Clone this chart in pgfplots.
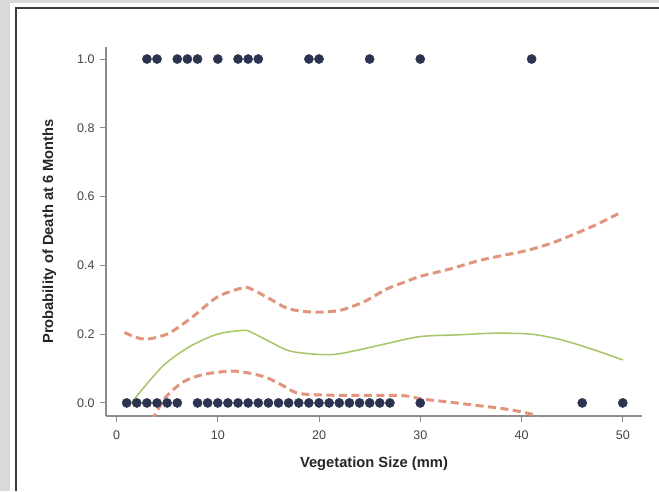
\documentclass[border=0pt]{standalone}
\usepackage{fontspec}
\setmainfont{Liberation Sans}
\usepackage{pgfplots}
\pgfplotsset{compat=1.18}
\definecolor{bggray}{HTML}{D9D9D9}
\definecolor{framec}{HTML}{3C3C3C}
\definecolor{dotc}{HTML}{2B3350}
\definecolor{greenc}{HTML}{A6C567}
\definecolor{salmon}{HTML}{E0957C}
\definecolor{tickc}{HTML}{444444}
\definecolor{axc}{HTML}{8C8C8C}
\begin{document}
\begin{tikzpicture}
\fill[bggray] (0pt,0pt) rectangle (659pt,491pt);
\fill[white] (10pt,0pt) rectangle (659pt,488pt);
\draw[framec, line width=2.5pt] (16pt,0pt) -- (16pt,483pt) -- (659pt,483pt);
\coordinate (orig) at (106pt,75pt);
\begin{axis}[
  at={(orig)}, anchor=south west,
  scale only axis, width=536pt, height=369pt,
  xmin=-1.04, xmax=51.9, ymin=-0.038, ymax=1.035,
  axis lines*=left,
  axis line style={axc, line width=1.3pt},
  tick style={axc, line width=1pt},
  tick align=outside, major tick length=6pt,
  xtick={0,10,20,30,40,50},
  ytick={0,0.2,0.4,0.6,0.8,1.0},
  yticklabel style={/pgf/number format/fixed, /pgf/number format/fixed zerofill, /pgf/number format/precision=1, xshift=-2pt},
  /pgf/number format/assume math mode=true,
  ticklabel style={font=\fontsize{12.5}{14}\selectfont, text=tickc},
  xticklabel style={yshift=-5pt},
  xlabel={\bfseries Vegetation Size (mm)},
  ylabel={\bfseries Probability of Death at 6 Months},
  label style={font=\fontsize{14.7}{16}\selectfont, text=black!85},
  xlabel style={yshift=-11pt},
  ylabel style={yshift=14pt},
  clip=true,
]
\addplot[salmon, line width=3pt, dash pattern=on 8pt off 4.5pt, smooth, tension=0.5] coordinates {
(0.78,0.205) (2,0.19) (3.16,0.186) (5.2,0.203) (7.5,0.25) (9.96,0.308) (12.5,0.335) (13.4,0.33) (15,0.305) (16.8,0.276) (18.5,0.266) (20.2,0.264) (22.2,0.27) (24.5,0.295) (26.6,0.33) (28.5,0.352) (30,0.368) (33,0.39) (35.8,0.414) (38,0.428) (40.5,0.443) (43,0.465) (45.3,0.492) (47.5,0.52) (49.6,0.551)
};
\addplot[salmon, line width=3pt, dash pattern=on 8pt off 4.5pt, smooth, tension=0.5] coordinates {
(3.5,-0.052) (4.2,-0.013) (4.86,0.017) (5.9,0.046) (6.9,0.066) (8.6,0.083) (11,0.092) (12.5,0.09) (14.7,0.075) (16.4,0.051) (17.8,0.029) (19.5,0.024) (22.2,0.022) (27.3,0.022) (29,0.019) (30,0.012) (32.4,0.004) (35.8,-0.008) (38.5,-0.018) (40.9,-0.032) (41.6,-0.042)
};
\addplot[greenc, line width=1.5pt, smooth, tension=0.5] coordinates {
(1.46,0.0) (3.16,0.061) (4.86,0.115) (7.24,0.164) (9.96,0.2) (12.5,0.211) (13.36,0.205) (15.4,0.174) (17.1,0.151) (19.5,0.142) (21.5,0.141) (23.9,0.154) (26.6,0.172) (30,0.193) (33.75,0.198) (37.5,0.203) (40.9,0.2) (43.3,0.188) (45.3,0.172) (47.7,0.149) (50,0.125)
};
\addplot[only marks, mark=*, mark size=4.6pt, mark options={fill=dotc, draw=dotc}] coordinates {
(3,1) (4,1) (6,1) (7,1) (8,1) (10,1) (12,1) (13,1) (14,1) (19,1) (20,1) (25,1) (30,1) (41,1)
(1,0) (2,0) (3,0) (4,0) (5,0) (6,0)
(8,0) (9,0) (10,0) (11,0) (12,0) (13,0) (14,0) (15,0) (16,0) (17,0) (18,0) (19,0) (20,0) (21,0) (22,0) (23,0) (24,0) (25,0) (26,0) (27,0)
(30,0) (46,0) (50,0)
};
\end{axis}
\pgfresetboundingbox
\useasboundingbox (0pt,0pt) rectangle (659pt,491pt);
\end{tikzpicture}
\end{document}
